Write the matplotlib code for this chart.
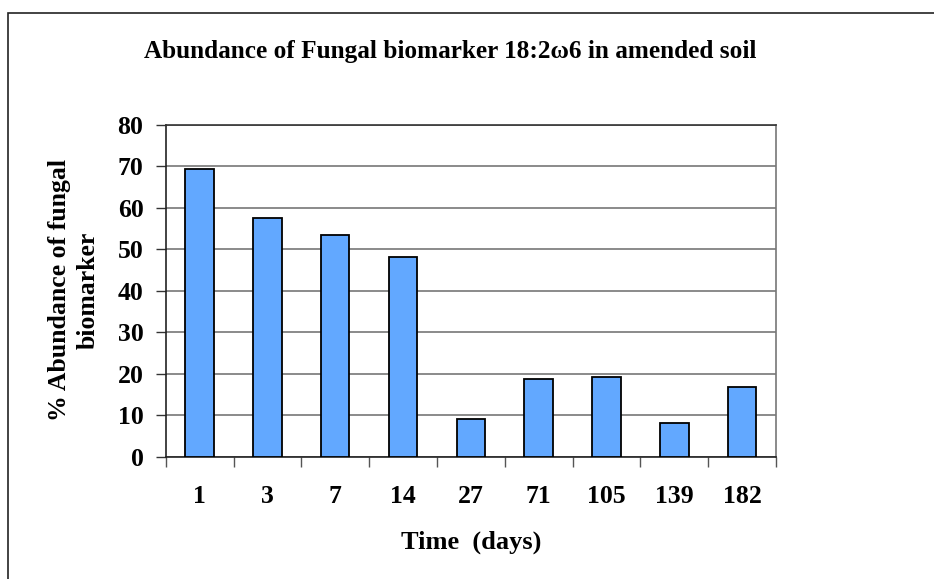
import matplotlib
matplotlib.use("Agg")
import matplotlib.pyplot as plt
from matplotlib.patches import Rectangle
import numpy as np

plt.rcParams['font.family'] = ['Liberation Serif', 'DejaVu Serif']

categories = ['1', '3', '7', '14', '27', '71', '105', '139', '182']
values = [69.3, 57.4, 53.5, 48.2, 9.1, 18.8, 19.3, 8.2, 16.9]
y_ticks = [0, 10, 20, 30, 40, 50, 60, 70, 80]

title = "Abundance of Fungal biomarker 18:2\u03c96 in amended soil"
xlabel = "Time  (days)"
ylabel = "% Abundance of fungal\nbiomarker"

W, H = 934, 579
fig = plt.figure(figsize=(W / 100, H / 100), dpi=100)
fig.patch.set_facecolor('white')

# outer chart border (left and top visible)
fig.add_artist(Rectangle((8 / W, -0.1), 2.0, (H - 13) / H + 0.1, transform=fig.transFigure,
                         fill=False, edgecolor='#222222', linewidth=1.2))

ax = fig.add_axes([165.7 / W, 1 - 456.7 / H, (776 - 165.7) / W, (456.7 - 124.7) / H])
x = np.arange(len(categories))
ax.bar(x, values, width=0.42, color='#62A8FF', edgecolor='black', linewidth=1.3, zorder=3)

ax.set_xlim(-0.5, len(categories) - 0.5)
ax.set_ylim(0, 80)
ax.set_yticks(y_ticks)
ax.set_yticklabels([str(t) for t in y_ticks], fontsize=18.5, fontweight='bold')
ax.set_xticks(x)
ax.set_xticklabels(categories, fontsize=18.5, fontweight='bold')
ax.tick_params(axis='x', length=0, pad=20.5)
ax.set_xticks(np.arange(len(categories) + 1) - 0.5, minor=True)
ax.tick_params(axis='x', which='minor', length=7, width=1, color='#555555', direction='out')
ax.tick_params(axis='y', length=7, width=1, color='#333333', direction='out', pad=9)

ax.yaxis.grid(True, color='#777777', linewidth=1.2, zorder=0)
ax.set_axisbelow(True)

for side in ['left', 'bottom']:
    ax.spines[side].set_color('#222222')
    ax.spines[side].set_linewidth(1.2)
ax.spines['top'].set_color('#333333')
ax.spines['top'].set_linewidth(1.2)
ax.spines['right'].set_color('#777777')
ax.spines['right'].set_linewidth(1.2)

fig.text(450 / W, 1 - 58 / H, title, fontsize=18.2, fontweight='bold', ha='center', va='baseline')
fig.text(471 / W, 1 - 549 / H, xlabel, fontsize=19, fontweight='bold', ha='center', va='baseline')
fig.text(74 / W, 1 - 290 / H, ylabel, fontsize=18.5, fontweight='bold', ha='center', va='center',
         rotation=90, multialignment='center', linespacing=1.35)

fig.savefig('out.png', dpi=100, facecolor='white')
